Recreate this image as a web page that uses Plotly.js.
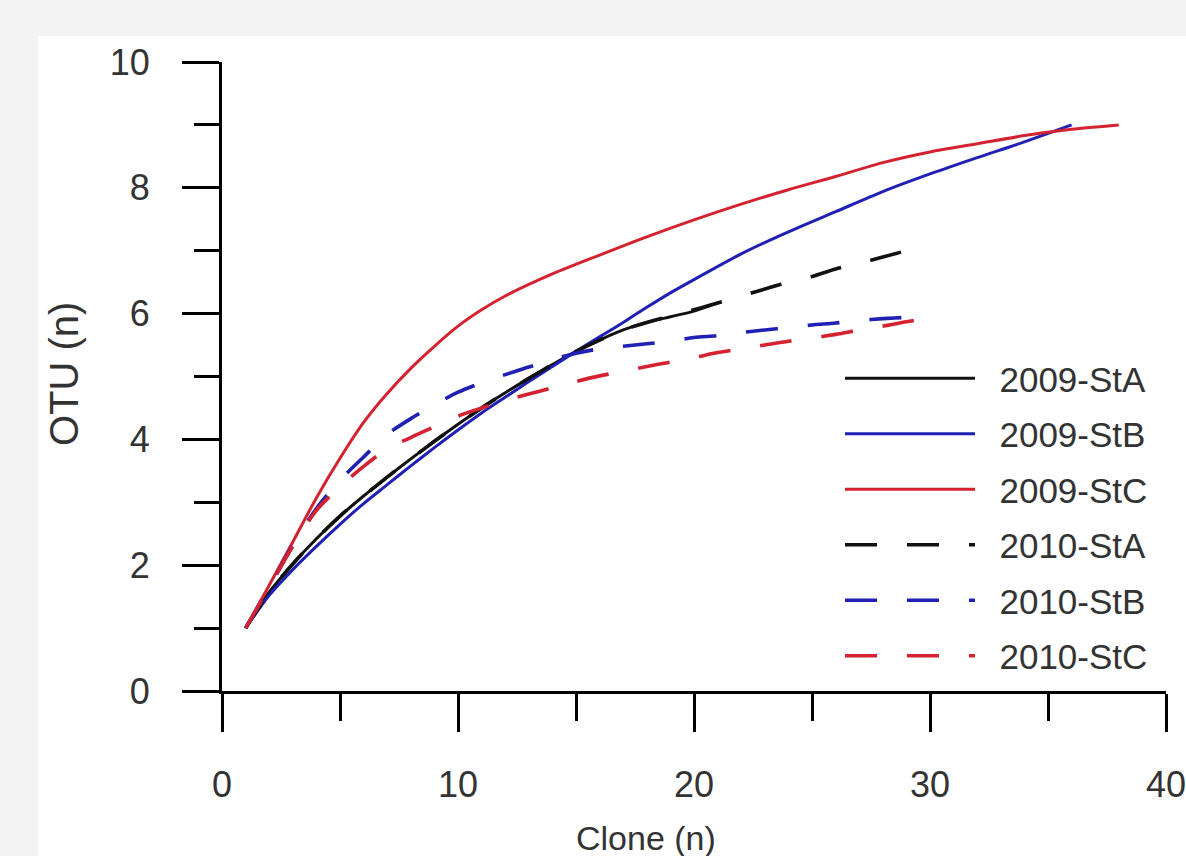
<!DOCTYPE html>
<html>
<head>
<meta charset="utf-8">
<script src="https://cdn.plot.ly/plotly-3.0.1.min.js"></script>
<style>
  html, body { margin: 0; padding: 0; background: #f3f3f3; }
  #chart { width: 1186px; height: 856px; }
</style>
</head>
<body>
<div id="chart"></div>
<script>
// ---- data ----
const seriesNames = ["2009-StA", "2009-StB", "2009-StC", "2010-StA", "2010-StB", "2010-StC"];

const x2009A = [1, 2, 3, 4, 5, 6, 7, 8, 9, 10, 11, 12, 13, 14, 15, 16, 17, 18, 19, 20, 21];
const y2009A = [1.0, 1.57, 2.02, 2.42, 2.78, 3.1, 3.4, 3.69, 3.97, 4.24, 4.5, 4.74, 4.97, 5.19, 5.4, 5.58, 5.74, 5.86, 5.95, 6.04, 6.17];

const x2009B = [1, 2, 3, 4, 5, 6, 7, 8, 9, 10, 11, 12, 13, 14, 15, 16, 17, 18, 19, 20, 22, 24, 26, 28, 30, 32, 34, 36];
const y2009B = [1.0, 1.52, 1.93, 2.3, 2.65, 2.98, 3.28, 3.58, 3.87, 4.15, 4.42, 4.67, 4.92, 5.16, 5.4, 5.63, 5.86, 6.1, 6.33, 6.54, 6.95, 7.3, 7.62, 7.94, 8.22, 8.48, 8.73, 9.0];

const x2009C = [1, 2, 3, 4, 5, 6, 7, 8, 9, 10, 11, 12, 14, 16, 18, 20, 22, 24, 26, 28, 30, 32, 34, 36, 38];
const y2009C = [1.0, 1.68, 2.37, 3.07, 3.7, 4.27, 4.73, 5.13, 5.48, 5.8, 6.06, 6.28, 6.63, 6.93, 7.22, 7.49, 7.74, 7.97, 8.18, 8.4, 8.57, 8.7, 8.83, 8.93, 9.0];

const x2010A = [1, 2, 3, 4, 5, 6, 7, 8, 9, 10, 11, 12, 13, 14, 15, 16, 17, 18, 19, 20, 21, 22, 23, 24, 25, 26, 27, 28, 29];
const y2010A = [1.0, 1.57, 2.02, 2.42, 2.78, 3.1, 3.4, 3.69, 3.97, 4.24, 4.5, 4.74, 4.97, 5.19, 5.4, 5.58, 5.74, 5.86, 5.96, 6.06, 6.17, 6.28, 6.39, 6.5, 6.59, 6.71, 6.8, 6.9, 7.0];

const x2010B = [1, 2, 3, 4, 5, 6, 7, 8, 9, 10, 11, 12, 13, 14, 15, 16, 17, 18, 19, 20, 21, 22, 23, 24, 25, 26, 27, 28, 29, 30];
const y2010B = [1.0, 1.65, 2.32, 2.9, 3.35, 3.72, 4.08, 4.33, 4.55, 4.75, 4.9, 5.03, 5.15, 5.27, 5.37, 5.44, 5.48, 5.52, 5.56, 5.62, 5.65, 5.7, 5.74, 5.78, 5.82, 5.85, 5.89, 5.92, 5.94, 5.95];

const x2010C = [1, 2, 3, 4, 5, 6, 7, 8, 9, 10, 11, 12, 13, 14, 15, 16, 17, 18, 19, 20, 21, 22, 23, 24, 25, 26, 27, 28, 29, 30];
const y2010C = [1.0, 1.65, 2.3, 2.87, 3.25, 3.57, 3.85, 4.03, 4.2, 4.37, 4.5, 4.62, 4.72, 4.82, 4.92, 5.01, 5.08, 5.16, 5.23, 5.3, 5.38, 5.44, 5.5, 5.56, 5.61, 5.67, 5.74, 5.8, 5.87, 5.93];

const xTickVals = [0, 10, 20, 30, 40];
const yTickVals = [0, 2, 4, 6, 8, 10];
const xTitle = "Clone (n)";
const yTitle = "OTU (n)";

// ---- styling ----
const BLACK = "#111111", BLUE = "#2020b4", RED = "#d42230";
const FONT = "Liberation Sans, Arial, sans-serif";
const GAP = "\u00a0\u00a0";

const xs = [x2009A, x2009B, x2009C, x2010A, x2010B, x2010C];
const ys = [y2009A, y2009B, y2009C, y2010A, y2010B, y2010C];
const colors = [BLACK, BLUE, RED, BLACK, BLUE, RED];

const traces = seriesNames.map((name, i) => ({
  type: "scatter",
  mode: "lines",
  name: GAP + name,
  legendgroup: name,
  x: xs[i],
  y: ys[i],
  line: {
    color: colors[i],
    width: i < 3 ? 3 : 3.6,
    dash: i < 3 ? "solid" : "32px,30px",
    shape: "spline",
    smoothing: 0.8
  },
  hoverinfo: "skip"
}));

const W = 1186, H = 856;
const L = 222, R = 20, T = 62, B = 165;
const pw = W - L - R, ph = H - T - B;
const px2paperX = p => (p - L) / pw;
const px2paperY = p => (H - B - p) / ph;

const layout = {
  width: W,
  height: H,
  margin: { l: L, r: R, t: T, b: B, pad: 0 },
  paper_bgcolor: "#f3f3f3",
  plot_bgcolor: "#ffffff",
  font: { family: FONT, color: "#333333", size: 36 },
  showlegend: true,
  legend: {
    x: px2paperX(840),
    y: px2paperY(349),
    xanchor: "left",
    yanchor: "top",
    bgcolor: "rgba(0,0,0,0)",
    borderwidth: 0,
    font: { family: FONT, size: 35, color: "#333333" },
    itemwidth: 130,
    tracegroupgap: 7,
    traceorder: "grouped"
  },
  xaxis: {
    range: [0, 40],
    tickvals: xTickVals,
    ticktext: xTickVals.map(String),
    ticks: "outside",
    ticklen: 38,
    tickwidth: 3,
    tickcolor: "#000",
    showline: true,
    linecolor: "#000",
    linewidth: 3,
    showgrid: false,
    zeroline: false,
    ticklabelstandoff: 22,
    ticklabeloverflow: "allow",
    tickfont: { family: FONT, size: 36, color: "#333333" },
    minor: { dtick: 5, tick0: 0, ticks: "outside", ticklen: 27, tickwidth: 3, tickcolor: "#000", showgrid: false },
    fixedrange: true
  },
  yaxis: {
    range: [0, 10],
    tickvals: yTickVals,
    ticktext: yTickVals.map(String),
    ticks: "outside",
    ticklen: 37,
    tickwidth: 3,
    tickcolor: "#000",
    showline: true,
    linecolor: "#000",
    linewidth: 3,
    showgrid: false,
    zeroline: false,
    ticklabelstandoff: 25,
    ticklabeloverflow: "allow",
    tickfont: { family: FONT, size: 36, color: "#333333" },
    minor: { dtick: 1, tick0: 0, ticks: "outside", ticklen: 25, tickwidth: 3, tickcolor: "#000", showgrid: false },
    fixedrange: true
  },
  shapes: [{
    type: "rect",
    xref: "paper", yref: "paper",
    x0: px2paperX(38), x1: px2paperX(1190),
    y0: px2paperY(860), y1: px2paperY(36),
    fillcolor: "#ffffff",
    line: { width: 0 },
    layer: "below"
  }],
  annotations: [
    {
      text: xTitle,
      xref: "paper", yref: "paper",
      x: px2paperX(646), y: px2paperY(838),
      xanchor: "center", yanchor: "middle",
      showarrow: false,
      font: { family: FONT, size: 34, color: "#333333" }
    },
    {
      text: yTitle,
      xref: "paper", yref: "paper",
      x: px2paperX(64), y: px2paperY(374),
      xanchor: "center", yanchor: "middle",
      textangle: -90,
      showarrow: false,
      font: { family: FONT, size: 40, color: "#333333" }
    }
  ]
};

Plotly.newPlot("chart", traces, layout, { staticPlot: true, displayModeBar: false });
</script>
</body>
</html>
